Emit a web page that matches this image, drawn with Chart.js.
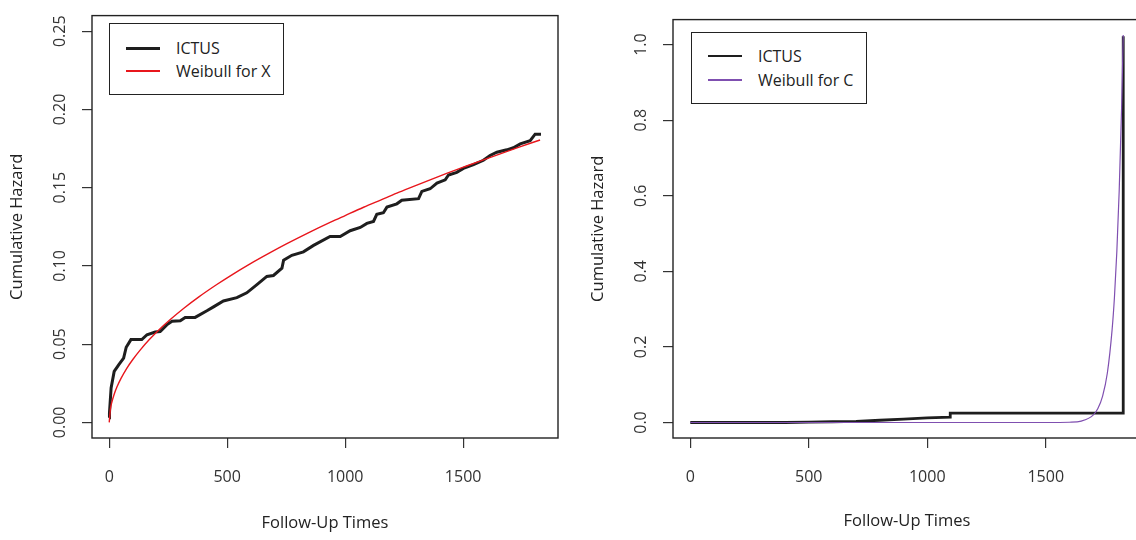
<!DOCTYPE html>
<html>
<head>
<meta charset="utf-8">
<title>Cumulative Hazard</title>
<script src="https://cdn.jsdelivr.net/npm/chart.js@4.4.1/dist/chart.umd.min.js"></script>
<style>
  html, body { margin: 0; padding: 0; background: #fff; overflow: hidden; }
  #wrap { position: relative; width: 1136px; height: 540px; overflow: hidden; }
  .panel { position: absolute; top: 0; height: 540px; }
  #leftPanel { left: 0; width: 568px; }
  #rightPanel { left: 568px; width: 578px; }
  .legend {
    position: absolute; background: #fff; border: 1px solid #222;
    font-family: "Open Sans", sans-serif; font-size: 16px; color: #222;
  }
  .legend .row { position: absolute; left: 0; right: 0; height: 20px; }
  .legend .swatch { position: absolute; left: 16px; width: 34px; }
  .legend .label { position: absolute; left: 66px; top: 0; line-height: 20px; white-space: nowrap; }
</style>
</head>
<body>
<div id="wrap">
  <div class="panel" id="leftPanel"><canvas id="leftChart" width="568" height="540"></canvas></div>
  <div class="panel" id="rightPanel"><canvas id="rightChart" width="578" height="540"></canvas></div>
  <div class="legend" id="leftLegend" style="left:109px; top:23px; width:173px; height:70px;"></div>
  <div class="legend" id="rightLegend" style="left:691px; top:32px; width:174px; height:70px;"></div>
</div>
<script>
const xTicks = [0, 500, 1000, 1500];

// left panel: ICTUS vs Weibull for X
const leftYTicks = [0, 0.05, 0.10, 0.15, 0.20, 0.25];
const ictusXTimes = [0, 1, 8, 21, 40, 61, 72, 92, 138, 160, 195, 216, 244, 266, 301, 322, 364, 414, 442, 484,
    541, 583, 626, 668, 696, 732, 739, 774, 823, 866, 936, 979, 1021, 1064, 1092, 1120, 1134, 1162, 1177, 1219,
    1240, 1311, 1325, 1360, 1389, 1424, 1438, 1473, 1501, 1544, 1586, 1614, 1643, 1685, 1713, 1742, 1784, 1805, 1830];
const ictusXHazard = [0.003, 0.006, 0.022, 0.0326, 0.0368, 0.041, 0.048, 0.0529, 0.0529, 0.056, 0.0577, 0.058, 0.0623, 0.0646, 0.065, 0.0671, 0.0671, 0.0713, 0.0738, 0.0776,
    0.0797, 0.0828, 0.088, 0.0933, 0.0939, 0.0985, 0.1037, 0.1068, 0.109, 0.1131, 0.1188, 0.1188, 0.1225, 0.1246, 0.1272, 0.1284, 0.133, 0.134, 0.1376, 0.1397,
    0.142, 0.143, 0.1476, 0.1493, 0.1529, 0.155, 0.1581, 0.1598, 0.1623, 0.1648, 0.1675, 0.1706, 0.1727, 0.1742, 0.1755, 0.178, 0.18, 0.1842, 0.1842];
const weibullXTimes = [0, 5, 11, 20, 33, 50, 75, 100, 131, 170, 209, 260, 315, 380, 456, 520, 597, 680, 753, 850,
    936, 1000, 1078, 1150, 1219, 1290, 1360, 1430, 1501, 1580, 1660, 1740, 1826];
const weibullXHazard = [0, 0.0085, 0.0128, 0.0175, 0.0227, 0.0281, 0.0347, 0.0402, 0.0462, 0.0529, 0.0589, 0.0659, 0.0728, 0.0802, 0.0881, 0.0943, 0.1013, 0.1083, 0.1142, 0.1216,
    0.1278, 0.1322, 0.1375, 0.1421, 0.1465, 0.1508, 0.155, 0.1591, 0.1631, 0.1675, 0.1718, 0.1761, 0.1805];

// right panel: ICTUS vs Weibull for C
const rightYTicks = [0, 0.2, 0.4, 0.6, 0.8, 1.0];
const ictusCTimes = [0, 400, 500, 600, 700, 800, 900, 1000, 1097, 1097, 1827, 1827];
const ictusCHazard = [0, 0, 0.001, 0.002, 0.003, 0.006, 0.009, 0.012, 0.014, 0.025, 0.025, 1.022];
const weibullCTimes = [0, 1500, 1600, 1650, 1700, 1720, 1740, 1760, 1780, 1790, 1800, 1810, 1820, 1827];
const weibullCHazard = [0, 0, 0.0007, 0.0038, 0.0195, 0.037, 0.07, 0.131, 0.245, 0.332, 0.452, 0.613, 0.83, 1.025];

const FONT = '"Open Sans", sans-serif';

function toPoints(xs, ys) {
    return xs.map((x, i) => ({ x: x, y: ys[i] }));
}

// R style frame around the plot region
const boxPlugin = {
    id: 'box',
    afterDatasetsDraw(chart) {
        const a = chart.chartArea;
        const ctx = chart.ctx;
        ctx.save();
        ctx.strokeStyle = '#222';
        ctx.lineWidth = 1.4;
        ctx.strokeRect(a.left, a.top, a.right - a.left, a.bottom - a.top);
        ctx.restore();
    }
};

function makeChart(canvasId, cfg) {
    const ctx = document.getElementById(canvasId).getContext('2d');
    return new Chart(ctx, {
        type: 'line',
        data: { datasets: cfg.datasets },
        options: {
            responsive: false,
            animation: false,
            devicePixelRatio: 1,
            layout: { padding: { top: cfg.padTop, right: cfg.padRight, left: 0, bottom: 0 } },
            plugins: { legend: { display: false }, tooltip: { enabled: false } },
            elements: { point: { radius: 0 } },
            scales: {
                x: {
                    type: 'linear',
                    min: -73,
                    max: 1902,
                    afterBuildTicks: s => { s.ticks = xTicks.map(v => ({ value: v })); },
                    afterFit: s => { s.height = 102; },
                    border: { display: false },
                    grid: { drawOnChartArea: false, drawTicks: true, tickLength: 10, color: '#333', lineWidth: 1.2 },
                    ticks: {
                        color: '#333', font: { family: FONT, size: 16 }, padding: 20,
                        minRotation: 0, maxRotation: 0, autoSkip: false,
                        callback: v => String(v)
                    },
                    title: { display: true, text: 'Follow-Up Times', color: '#222', font: { family: FONT, size: 16.5 }, padding: { top: 0, bottom: cfg.xTitlePad } }
                },
                y: {
                    type: 'linear',
                    min: cfg.yMin,
                    max: cfg.yMax,
                    afterBuildTicks: s => { s.ticks = cfg.yTicks.map(v => ({ value: v })); },
                    afterFit: s => { s.width = cfg.yWidth; },
                    border: { display: false },
                    grid: { drawOnChartArea: false, drawTicks: true, tickLength: 10, color: '#333', lineWidth: 1.2 },
                    ticks: {
                        color: '#333', font: { family: FONT, size: 16 }, padding: cfg.yTickPad,
                        minRotation: 90, maxRotation: 90, crossAlign: 'center', autoSkip: false,
                        callback: v => v.toFixed(cfg.decimals)
                    },
                    title: { display: true, text: 'Cumulative Hazard', color: '#222', font: { family: FONT, size: 16.5 }, padding: { top: cfg.yTitlePad, bottom: 0 } }
                }
            }
        },
        plugins: [boxPlugin]
    });
}

function buildLegend(chart, boxId, rowCenters) {
    const box = document.getElementById(boxId);
    chart.data.datasets.forEach((ds, i) => {
        const row = document.createElement('div');
        row.className = 'row';
        row.style.top = (rowCenters[i] - 10) + 'px';
        const sw = document.createElement('div');
        sw.className = 'swatch';
        sw.style.height = ds.borderWidth + 'px';
        sw.style.top = (10 - ds.borderWidth / 2) + 'px';
        sw.style.background = ds.borderColor;
        const label = document.createElement('span');
        label.className = 'label';
        label.textContent = ds.label;
        row.appendChild(sw);
        row.appendChild(label);
        box.appendChild(row);
    });
}

const leftChart = makeChart('leftChart', {
    datasets: [
        { label: 'ICTUS', data: toPoints(ictusXTimes, ictusXHazard), borderColor: '#1e1e1e', borderWidth: 3, tension: 0, order: 1 },
        { label: 'Weibull for X', data: toPoints(weibullXTimes, weibullXHazard), borderColor: '#e8161c', borderWidth: 1.4, cubicInterpolationMode: 'monotone', order: 0 }
    ],
    padTop: 6, padRight: 10,
    yMin: -0.01, yMax: 0.26, yTicks: leftYTicks, decimals: 2,
    yWidth: 92, yTickPad: 6, yTitlePad: 7, xTitlePad: 7
});

const rightChart = makeChart('rightChart', {
    datasets: [
        { label: 'ICTUS', data: toPoints(ictusCTimes, ictusCHazard), borderColor: '#1e1e1e', borderWidth: 2.8, tension: 0, order: 1 },
        { label: 'Weibull for C', data: toPoints(weibullCTimes, weibullCHazard), borderColor: '#7f4fb0', borderWidth: 1.2, cubicInterpolationMode: 'monotone', order: 0 }
    ],
    padTop: 5.5, padRight: 5,
    yMin: -0.041, yMax: 1.066, yTicks: rightYTicks, decimals: 1,
    yWidth: 105, yTickPad: 10, yTitlePad: 20, xTitlePad: 9
});

buildLegend(leftChart, 'leftLegend', [24, 47]);
buildLegend(rightChart, 'rightLegend', [23, 47]);
</script>
</body>
</html>
